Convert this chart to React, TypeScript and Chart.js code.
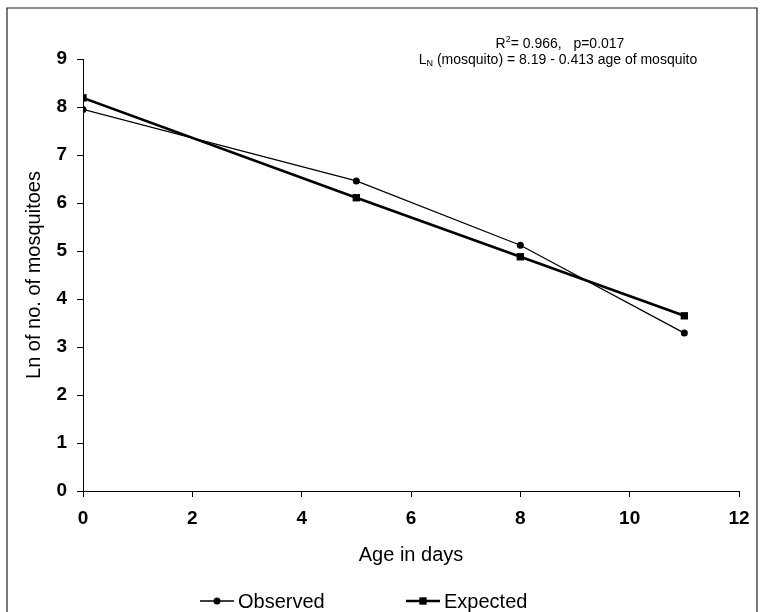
import React, { useEffect, useRef } from "react";
import { Chart, registerables } from "chart.js";

Chart.register(...registerables);

// ---- data ----
const ages = [0, 5, 8, 11];
const observed = [7.95, 6.46, 5.12, 3.29];
const expected = [8.19, 6.11, 4.88, 3.65];
const seriesNames = ["Observed", "Expected"];
const xTitle = "Age in days";
const yTitle = "Ln of no. of mosquitoes";
const annotR = ["R", "2", "= 0.966,   p=0.017"];
const annotL = ["L", "N", " (mosquito) = 8.19 - 0.413 age of mosquito"];

const FONT = "'Liberation Sans', Arial, sans-serif";

const extrasPlugin = {
  id: "extras",
  afterDraw(chart: any) {
    const ctx = chart.ctx as CanvasRenderingContext2D;
    ctx.save();
    // frame
    ctx.strokeStyle = "#222";
    ctx.lineWidth = 1.2;
    ctx.beginPath();
    ctx.moveTo(7, 640);
    ctx.lineTo(7, 8);
    ctx.lineTo(757, 8);
    ctx.lineTo(757, 640);
    ctx.stroke();

    // annotation
    ctx.fillStyle = "#000";
    ctx.textBaseline = "alphabetic";
    const drawRich = (parts: string[], cx: number, y: number, sup: boolean) => {
      const big = `14px ${FONT}`;
      const small = `9px ${FONT}`;
      ctx.font = big;
      const w0 = ctx.measureText(parts[0]).width;
      const w2 = ctx.measureText(parts[2]).width;
      ctx.font = small;
      const w1 = ctx.measureText(parts[1]).width;
      let x = cx - (w0 + w1 + w2) / 2;
      ctx.textAlign = "left";
      ctx.font = big;
      ctx.fillText(parts[0], x, y);
      x += w0;
      ctx.font = small;
      ctx.fillText(parts[1], x, sup ? y - 6 : y + 2);
      x += w1;
      ctx.font = big;
      ctx.fillText(parts[2], x, y);
    };
    drawRich(annotR, 560, 48, true);
    drawRich(annotL, 558, 64, false);

    // legend
    const ly = 601;
    const items = chart.data.datasets.map((ds: any, i: number) => ({ ds, i }));
    const starts = [200, 406];
    ctx.font = `20px ${FONT}`;
    ctx.textBaseline = "middle";
    items.forEach(({ ds, i }: any) => {
      const x0 = starts[i];
      ctx.strokeStyle = ds.borderColor;
      ctx.lineWidth = ds.borderWidth;
      ctx.beginPath();
      ctx.moveTo(x0, ly);
      ctx.lineTo(x0 + 34, ly);
      ctx.stroke();
      ctx.fillStyle = ds.pointBackgroundColor;
      const cx = x0 + 17;
      if (ds.pointStyle === "rect") {
        const s = ds.pointRadius * Math.SQRT1_2;
        ctx.fillRect(cx - s, ly - s, 2 * s, 2 * s);
      } else {
        ctx.beginPath();
        ctx.arc(cx, ly, ds.pointRadius, 0, Math.PI * 2);
        ctx.fill();
      }
      ctx.fillStyle = "#000";
      ctx.textAlign = "left";
      ctx.fillText(ds.label, x0 + 38, ly + 1);
    });
    ctx.restore();
  },
};

export default function App() {
  const ref = useRef<HTMLCanvasElement | null>(null);
  useEffect(() => {
    if (!ref.current) return;
    const chart = new Chart(ref.current, {
      type: "line",
      data: {
        datasets: [
          {
            label: seriesNames[0],
            data: ages.map((a, i) => ({ x: a, y: observed[i] })),
            borderColor: "#000",
            backgroundColor: "#000",
            pointBackgroundColor: "#000",
            pointBorderColor: "#000",
            borderWidth: 1.3,
            pointStyle: "circle",
            pointRadius: 3.5,
            pointBorderWidth: 0,
          },
          {
            label: seriesNames[1],
            data: ages.map((a, i) => ({ x: a, y: expected[i] })),
            borderColor: "#000",
            backgroundColor: "#000",
            pointBackgroundColor: "#000",
            pointBorderColor: "#000",
            borderWidth: 2.6,
            pointStyle: "rect",
            pointRadius: 5.2,
            pointBorderWidth: 0,
          },
        ],
      },
      options: {
        responsive: false,
        animation: false,
        layout: { padding: { left: 0, top: 59, right: 21, bottom: 0 } },
        plugins: { legend: { display: false }, tooltip: { enabled: false } },
        scales: {
          x: {
            type: "linear",
            min: 0,
            max: 12,
            ticks: {
              stepSize: 2,
              color: "#000",
              padding: 10,
              font: { family: FONT, size: 19, weight: "bold" },
            },
            grid: { drawOnChartArea: false, drawTicks: true, tickLength: 6, color: "#000" },
            border: { display: true, color: "#000", width: 1 },
            title: {
              display: true,
              text: xTitle,
              color: "#000",
              font: { family: FONT, size: 20 },
              padding: { top: 0, bottom: 45 },
            },
            afterFit(scale: any) {
              scale.height = 121;
            },
          },
          y: {
            min: 0,
            max: 9,
            ticks: {
              stepSize: 1,
              color: "#000",
              padding: 10,
              font: { family: FONT, size: 19, weight: "bold" },
            },
            grid: { drawOnChartArea: false, drawTicks: true, tickLength: 6, color: "#000" },
            border: { display: true, color: "#000", width: 1 },
            title: {
              display: true,
              text: yTitle,
              color: "#000",
              font: { family: FONT, size: 20 },
              padding: { top: 22, bottom: 0 },
            },
            afterFit(scale: any) {
              scale.width = 83;
            },
          },
        },
      },
      plugins: [extrasPlugin],
    });
    return () => chart.destroy();
  }, []);
  return (
    <div style={{ position: "absolute", left: 0, top: 0, width: 760, height: 612, background: "#fff", overflow: "hidden" }}>
      <canvas ref={ref} width={760} height={612} style={{ width: 760, height: 612, display: "block" }} />
    </div>
  );
}
